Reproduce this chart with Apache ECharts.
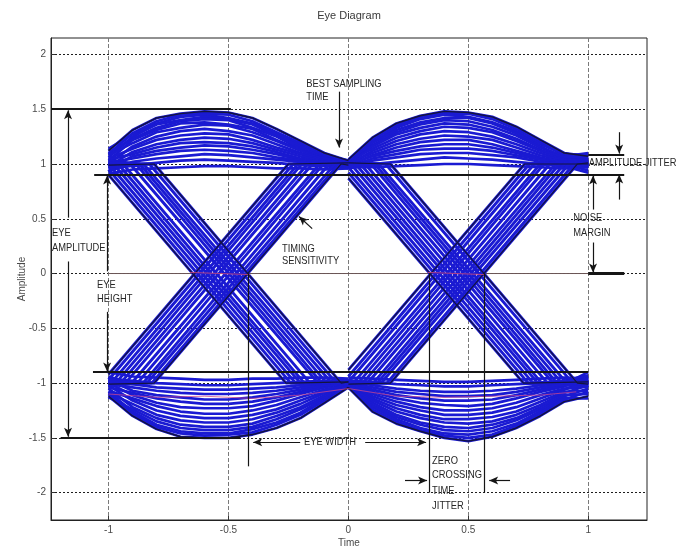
<!DOCTYPE html>
<html>
<head>
<meta charset="utf-8">
<script src="https://cdn.jsdelivr.net/npm/echarts@6/dist/echarts.min.js"></script>
<style>
  html, body { margin: 0; padding: 0; background: #ffffff; }
  #chart { width: 684px; height: 550px; }
</style>
</head>
<body>
<div id="chart"></div>
<script>
// ---- sample times for one unit interval ----
const TIME_LEFT  = [-1, -0.9, -0.8, -0.7, -0.6, -0.5, -0.4, -0.3, -0.2, -0.1, 0];
const TIME_RIGHT = [0, 0.1, 0.2, 0.3, 0.4, 0.5, 0.6, 0.7, 0.8, 0.9, 1];

// ---- axis ticks ----
const X_TICKS = [-1, -0.5, 0, 0.5, 1];
const Y_TICKS = [-2, -1.5, -1, -0.5, 0, 0.5, 1, 1.5, 2];

// ---- "1" level traces, first bit interval (amplitude at TIME_LEFT) ----
const upperArcsLeft = [
  [1.12, 1.31, 1.42, 1.46, 1.48, 1.47, 1.42, 1.32, 1.21, 1.10, 1.03],
  [1.09, 1.28, 1.39, 1.45, 1.46, 1.45, 1.39, 1.29, 1.19, 1.09, 1.02],
  [1.14, 1.27, 1.37, 1.43, 1.45, 1.42, 1.37, 1.28, 1.17, 1.07, 1.01],
  [1.06, 1.25, 1.36, 1.40, 1.43, 1.41, 1.36, 1.26, 1.16, 1.08, 1.03],
  [1.10, 1.23, 1.33, 1.39, 1.41, 1.40, 1.33, 1.25, 1.14, 1.06, 1.00],
  [1.03, 1.22, 1.31, 1.37, 1.38, 1.36, 1.32, 1.22, 1.13, 1.05, 1.02],
  [1.08, 1.19, 1.29, 1.33, 1.36, 1.35, 1.29, 1.21, 1.12, 1.04, 0.99],
  [1.00, 1.16, 1.25, 1.30, 1.32, 1.30, 1.26, 1.18, 1.10, 1.05, 1.01],
  [1.05, 1.14, 1.22, 1.26, 1.28, 1.27, 1.22, 1.15, 1.09, 1.03, 1.00],
  [0.98, 1.11, 1.18, 1.22, 1.24, 1.23, 1.19, 1.13, 1.07, 1.02, 0.98],
  [1.04, 1.09, 1.15, 1.19, 1.20, 1.19, 1.16, 1.11, 1.05, 1.01, 1.00],
  [0.96, 1.07, 1.12, 1.15, 1.17, 1.16, 1.13, 1.09, 1.04, 1.01, 0.99],
  [1.01, 1.05, 1.09, 1.12, 1.13, 1.12, 1.10, 1.06, 1.03, 1.00, 0.98],
  [0.93, 1.02, 1.05, 1.07, 1.09, 1.08, 1.06, 1.04, 1.02, 0.99, 0.97],
  [0.95, 0.99, 1.01, 1.03, 1.04, 1.03, 1.02, 1.01, 0.99, 0.98, 0.96],
  [0.91, 0.95, 0.96, 0.97, 0.98, 0.98, 0.97, 0.96, 0.96, 0.95, 0.96]
];

// ---- "1" level traces, second bit interval (amplitude at TIME_RIGHT) ----
const upperArcsRight = [
  [1.04, 1.24, 1.37, 1.44, 1.48, 1.47, 1.43, 1.34, 1.22, 1.10, 1.07],
  [1.02, 1.22, 1.35, 1.43, 1.46, 1.46, 1.41, 1.32, 1.20, 1.08, 1.05],
  [1.03, 1.20, 1.33, 1.41, 1.45, 1.43, 1.38, 1.30, 1.18, 1.09, 1.08],
  [1.01, 1.19, 1.31, 1.38, 1.42, 1.42, 1.37, 1.28, 1.16, 1.06, 1.03],
  [1.03, 1.17, 1.29, 1.36, 1.40, 1.39, 1.34, 1.26, 1.15, 1.07, 1.10],
  [1.00, 1.16, 1.27, 1.33, 1.37, 1.36, 1.31, 1.23, 1.13, 1.05, 1.02],
  [1.02, 1.14, 1.24, 1.30, 1.34, 1.33, 1.29, 1.21, 1.12, 1.06, 1.06],
  [0.99, 1.12, 1.21, 1.27, 1.30, 1.29, 1.25, 1.18, 1.10, 1.04, 1.00],
  [1.01, 1.10, 1.18, 1.23, 1.26, 1.25, 1.22, 1.15, 1.08, 1.03, 1.04],
  [0.98, 1.08, 1.15, 1.20, 1.22, 1.22, 1.18, 1.12, 1.06, 1.01, 0.97],
  [1.00, 1.07, 1.12, 1.16, 1.18, 1.18, 1.15, 1.10, 1.05, 1.02, 1.01],
  [0.97, 1.05, 1.09, 1.13, 1.14, 1.14, 1.12, 1.08, 1.04, 1.00, 0.94],
  [0.99, 1.03, 1.06, 1.09, 1.10, 1.10, 1.08, 1.06, 1.02, 0.99, 0.99],
  [0.96, 1.00, 1.02, 1.04, 1.06, 1.05, 1.04, 1.02, 1.00, 0.98, 0.92],
  [0.97, 0.97, 0.98, 0.99, 1.00, 1.00, 0.99, 0.98, 0.97, 0.96, 0.97]
];

// ---- "0" level traces, first bit interval ----
const lowerArcsLeft = [
  [-1.12, -1.30, -1.42, -1.49, -1.50, -1.50, -1.47, -1.41, -1.32, -1.18, -1.04],
  [-1.10, -1.28, -1.40, -1.46, -1.48, -1.47, -1.45, -1.38, -1.29, -1.16, -1.03],
  [-1.08, -1.26, -1.38, -1.44, -1.46, -1.46, -1.42, -1.36, -1.27, -1.14, -1.02],
  [-1.13, -1.24, -1.35, -1.41, -1.43, -1.43, -1.40, -1.33, -1.24, -1.13, -1.03],
  [-1.05, -1.22, -1.32, -1.38, -1.40, -1.40, -1.37, -1.30, -1.22, -1.11, -1.01],
  [-1.09, -1.19, -1.29, -1.34, -1.36, -1.36, -1.33, -1.27, -1.19, -1.09, -1.02],
  [-1.02, -1.16, -1.25, -1.30, -1.32, -1.32, -1.29, -1.24, -1.16, -1.08, -1.00],
  [-1.07, -1.14, -1.21, -1.26, -1.28, -1.28, -1.25, -1.20, -1.13, -1.06, -1.01],
  [-1.00, -1.11, -1.18, -1.22, -1.23, -1.23, -1.21, -1.16, -1.10, -1.04, -0.99],
  [-1.04, -1.09, -1.14, -1.17, -1.19, -1.19, -1.17, -1.13, -1.08, -1.03, -1.00],
  [-0.97, -1.07, -1.11, -1.13, -1.15, -1.15, -1.13, -1.10, -1.06, -1.02, -0.98],
  [-1.01, -1.04, -1.07, -1.09, -1.10, -1.10, -1.09, -1.07, -1.04, -1.01, -1.00],
  [-0.94, -1.01, -1.04, -1.05, -1.06, -1.06, -1.05, -1.04, -1.02, -1.00, -0.98],
  [-0.96, -0.98, -1.00, -1.01, -1.02, -1.02, -1.01, -1.00, -0.99, -0.98, -0.97],
  [-0.90, -0.94, -0.95, -0.96, -0.97, -0.97, -0.96, -0.96, -0.95, -0.95, -0.96]
];

// ---- "0" level traces, second bit interval ----
const lowerArcsRight = [
  [-1.04, -1.26, -1.37, -1.44, -1.50, -1.53, -1.49, -1.41, -1.30, -1.17, -1.12],
  [-1.03, -1.24, -1.35, -1.43, -1.48, -1.50, -1.47, -1.39, -1.28, -1.15, -1.08],
  [-1.02, -1.22, -1.33, -1.41, -1.46, -1.47, -1.44, -1.37, -1.26, -1.14, -1.14],
  [-1.03, -1.20, -1.31, -1.38, -1.43, -1.44, -1.41, -1.34, -1.24, -1.12, -1.05],
  [-1.01, -1.18, -1.29, -1.36, -1.40, -1.41, -1.38, -1.32, -1.22, -1.11, -1.10],
  [-1.02, -1.16, -1.26, -1.32, -1.36, -1.37, -1.35, -1.29, -1.20, -1.09, -1.02],
  [-1.00, -1.14, -1.23, -1.29, -1.33, -1.33, -1.31, -1.26, -1.17, -1.08, -1.07],
  [-1.01, -1.12, -1.20, -1.25, -1.29, -1.29, -1.27, -1.22, -1.14, -1.06, -0.98],
  [-0.99, -1.10, -1.17, -1.22, -1.25, -1.25, -1.23, -1.18, -1.11, -1.05, -1.03],
  [-1.00, -1.08, -1.14, -1.18, -1.20, -1.21, -1.19, -1.14, -1.08, -1.03, -0.95],
  [-0.98, -1.06, -1.11, -1.14, -1.16, -1.16, -1.15, -1.11, -1.06, -1.02, -1.00],
  [-1.00, -1.04, -1.08, -1.10, -1.12, -1.12, -1.11, -1.08, -1.04, -1.01, -0.90],
  [-0.97, -1.02, -1.05, -1.07, -1.08, -1.08, -1.07, -1.05, -1.02, -0.99, -0.98],
  [-0.98, -0.99, -1.01, -1.02, -1.03, -1.03, -1.02, -1.01, -1.00, -0.98, -0.93],
  [-0.95, -0.96, -0.97, -0.98, -0.99, -0.99, -0.98, -0.97, -0.96, -0.95, -0.96]
];

// ---- 1 -> 0 transitions in the first interval ([time, amplitude] vertices) ----
const fallingLeft = [
  [[-1, 0.90], [-0.26, -1.00], [0, -0.99]],
  [[-1, 0.95], [-0.24, -1.00], [0, -1.01]],
  [[-1, 1.00], [-0.22, -1.00], [0, -0.98]],
  [[-1, 1.01], [-0.98, 1.00], [-0.20, -1.00], [0, -1.00]],
  [[-1, 0.99], [-0.96, 1.00], [-0.18, -1.01], [0, -1.02]],
  [[-1, 1.02], [-0.94, 1.00], [-0.16, -1.00], [0, -0.99]],
  [[-1, 0.98], [-0.91, 1.00], [-0.13, -0.99], [0, -1.00]],
  [[-1, 1.00], [-0.89, 1.01], [-0.11, -1.00], [0, -1.01]],
  [[-1, 1.03], [-0.87, 1.00], [-0.09, -1.00], [0, -0.98]],
  [[-1, 0.97], [-0.85, 0.99], [-0.07, -1.00], [0, -1.00]],
  [[-1, 1.01], [-0.83, 1.00], [-0.05, -1.00], [0, -1.01]],
  [[-1, 0.99], [-0.81, 1.00], [-0.03, -1.00], [0, -0.99]]
];

// ---- 0 -> 1 transitions in the first interval ----
const risingLeft = [
  [[-1, -0.92], [-0.25, 1.00], [0, 1.01]],
  [[-1, -0.97], [-0.23, 1.00], [0, 0.99]],
  [[-1, -1.01], [-0.99, -1.00], [-0.21, 1.00], [0, 1.00]],
  [[-1, -0.99], [-0.97, -1.00], [-0.19, 1.01], [0, 1.02]],
  [[-1, -1.03], [-0.95, -1.00], [-0.17, 1.00], [0, 0.99]],
  [[-1, -0.98], [-0.93, -1.00], [-0.15, 1.00], [0, 1.00]],
  [[-1, -1.01], [-0.90, -0.99], [-0.12, 1.00], [0, 1.01]],
  [[-1, -1.00], [-0.88, -1.00], [-0.10, 1.01], [0, 0.98]],
  [[-1, -0.97], [-0.86, -1.01], [-0.08, 1.00], [0, 1.00]],
  [[-1, -1.02], [-0.84, -1.00], [-0.06, 0.99], [0, 1.01]],
  [[-1, -0.99], [-0.82, -1.00], [-0.04, 1.00], [0, 1.00]],
  [[-1, -1.01], [-0.81, -1.00], [-0.03, 1.00], [0, 0.99]]
];

// ---- 1 -> 0 transitions in the second interval ----
const fallingRight = [
  [[0, 0.87], [0.73, -1.00], [1, -0.99]],
  [[0, 0.92], [0.75, -1.00], [1, -1.02]],
  [[0, 0.97], [0.77, -1.00], [1, -0.97]],
  [[0, 1.01], [0.01, 1.00], [0.79, -1.00], [1, -1.00]],
  [[0, 0.99], [0.03, 1.00], [0.81, -1.01], [1, -1.03]],
  [[0, 1.02], [0.05, 1.00], [0.83, -1.00], [1, -0.98]],
  [[0, 0.98], [0.07, 1.00], [0.85, -0.99], [1, -1.01]],
  [[0, 1.00], [0.09, 1.01], [0.87, -1.00], [1, -1.00]],
  [[0, 1.01], [0.11, 1.00], [0.89, -1.00], [1, -0.96]],
  [[0, 0.99], [0.13, 0.99], [0.91, -1.00], [1, -1.02]],
  [[0, 1.00], [0.155, 1.00], [0.935, -1.00], [1, -1.00]],
  [[0, 1.01], [0.175, 1.00], [0.955, -1.00], [1, -1.01]]
];

// ---- 0 -> 1 transitions in the second interval ----
const risingRight = [
  [[0, -0.88], [0.735, 1.00], [1, 1.00]],
  [[0, -0.94], [0.755, 1.00], [1, 1.03]],
  [[0, -0.99], [0.775, 1.00], [1, 0.98]],
  [[0, -1.01], [0.02, -1.00], [0.80, 1.00], [1, 1.01]],
  [[0, -0.99], [0.04, -1.00], [0.82, 1.01], [1, 0.99]],
  [[0, -1.02], [0.06, -1.00], [0.84, 1.00], [1, 1.02]],
  [[0, -0.98], [0.08, -1.00], [0.86, 0.99], [1, 1.00]],
  [[0, -1.00], [0.10, -1.01], [0.88, 1.00], [1, 0.97]],
  [[0, -1.01], [0.12, -1.00], [0.90, 1.00], [1, 1.01]],
  [[0, -0.99], [0.14, -0.99], [0.92, 1.00], [1, 1.00]],
  [[0, -1.00], [0.16, -1.00], [0.94, 1.00], [1, 0.99]],
  [[0, -1.01], [0.175, -1.00], [0.955, 1.00], [1, 1.01]]
];

// ---- reference traces drawn in red ----
const redLowTrace = [[-1, -1.10], [-0.8, -1.13], [-0.6, -1.12], [-0.4, -1.14], [-0.2, -1.11], [0, -1.05],
                     [0.2, -1.12], [0.4, -1.13], [0.6, -1.12], [0.8, -1.11], [0.95, -1.08]];
const redCrossLeft  = [[-0.66, 0.01], [-0.41, -0.01]];
const redCrossRight = [[0.33, 0.01], [0.57, -0.01]];
const zeroLine = [[-1, 0], [1, 0]];

// ---- measurement marks: [t1, y1, t2, y2] ----
const measureBars = [
  [-1.24, 1.5, -0.49, 1.5],        // eye amplitude, top
  [-1.20, -1.5, -0.45, -1.5],      // eye amplitude, bottom
  [-1.06, 0.90, 1.15, 0.90],       // eye height, top
  [-1.065, -0.90, 1.0, -0.90],     // eye height, bottom
  [1.0, 1.086, 1.15, 1.086]        // amplitude jitter, top
];
const measureArrows = [
  [-1.169, 0.51, -1.169, 1.49],    // eye amplitude up
  [-1.169, 0.11, -1.169, -1.49],   // eye amplitude down
  [-1.006, 0.02, -1.006, 0.895],   // eye height up
  [-1.006, -0.35, -1.006, -0.895], // eye height down
  [-0.039, 1.66, -0.039, 1.15],    // best sampling time
  [1.129, 1.29, 1.129, 1.095],     // amplitude jitter down
  [1.129, 0.675, 1.129, 0.905],    // amplitude jitter up
  [1.02, 0.584, 1.02, 0.895],      // noise margin up
  [1.02, 0.283, 1.02, 0.01],       // noise margin down
  [-0.151, 0.41, -0.206, 0.52],    // timing sensitivity
  [-0.201, -1.54, -0.397, -1.54],  // eye width left
  [0.07, -1.54, 0.324, -1.54],     // eye width right
  [0.236, -1.89, 0.328, -1.89],    // zero crossing, from left
  [0.674, -1.89, 0.587, -1.89]     // zero crossing, from right
];
const measureLines = [
  [-0.418, 0, -0.418, -1.76],      // eye width limit
  [0.337, 0, 0.337, -2.0],         // crossing spread start
  [0.566, 0, 0.566, -2.0]          // crossing spread end
];
const noiseMarginBase = [1.0, 0, 1.15, 0];

// ---- annotation texts: [text, t, y] (left edge, vertical middle) ----
const notes = [
  ['BEST SAMPLING', -0.176, 1.734],
  ['TIME', -0.176, 1.615],
  ['AMPLITUDE JITTER', 1.002, 1.005],
  ['NOISE', 0.937, 0.511],
  ['MARGIN', 0.937, 0.374],
  ['TIMING', -0.277, 0.228],
  ['SENSITIVITY', -0.277, 0.119],
  ['EYE', -1.236, 0.374],
  ['AMPLITUDE', -1.236, 0.237],
  ['EYE', -1.048, -0.109],
  ['HEIGHT', -1.048, -0.228],
  ['EYE WIDTH', -0.185, -1.542],
  ['ZERO', 0.349, -1.715],
  ['CROSSING', 0.349, -1.843],
  ['TIME', 0.349, -1.989],
  ['JITTER', 0.349, -2.126]
];

const TRACE_BLUE = '#1a1ad2';
const TRACE_EDGE = '#14143c';
const INK = '#151515';
const FONT = '"Liberation Sans", Arial, Helvetica, sans-serif';

const series = [];
function addTrace(points, color, width, z) {
  series.push({
    type: 'line', data: points, showSymbol: false, symbol: 'none',
    silent: true, animation: false, z: z || 2,
    lineStyle: { color: color, width: width }
  });
}
function arcPoints(times, values) { return times.map((t, i) => [t, values[i]]); }

const ARC_W = 2.7, EDGE_W = 1.4, TRANS_W = 2.9;
[[upperArcsLeft, TIME_LEFT], [upperArcsRight, TIME_RIGHT], [lowerArcsLeft, TIME_LEFT], [lowerArcsRight, TIME_RIGHT]]
  .forEach(([group, times]) => {
    group.forEach((a, i) => addTrace(arcPoints(times, a), TRACE_BLUE, ARC_W, 2));
    addTrace(arcPoints(times, group[0]), TRACE_EDGE, EDGE_W, 3);
  });
[fallingLeft, risingLeft, fallingRight, risingRight].forEach(group => {
  group.forEach(p => addTrace(p, TRACE_BLUE, TRANS_W, 2));
  addTrace(group[0], TRACE_EDGE, 1.2, 3);
  addTrace(group[group.length - 1], TRACE_EDGE, 1.2, 3);
});
addTrace(zeroLine, '#6b5656', 1, 1);
addTrace(redLowTrace, 'rgba(205,70,140,0.75)', 1, 4);
addTrace(redCrossLeft, 'rgba(205,70,120,0.85)', 1, 4);
addTrace(redCrossRight, 'rgba(205,70,120,0.85)', 1, 4);

// measurement marks as a mark-line layer on the same axes
function seg(m, arrow, width) {
  return [
    { coord: [m[0], m[1]], symbol: 'none' },
    { coord: [m[2], m[3]], symbol: arrow ? 'arrow' : 'none', symbolSize: [6, 9],
      lineStyle: { color: INK, width: width, type: 'solid' } }
  ];
}
const markData = []
  .concat(measureBars.map(m => seg(m, false, 1.8)))
  .concat(measureArrows.map(m => seg(m, true, 1.2)))
  .concat(measureLines.map(m => seg(m, false, 1.2)))
  .concat([seg(noiseMarginBase, false, 3)]);
series.push({
  type: 'line', data: [], silent: true, animation: false, z: 5,
  markLine: {
    silent: true, animation: false, symbol: ['none', 'none'], precision: 4,
    label: { show: false },
    lineStyle: { color: INK, width: 1.2, type: 'solid' },
    emphasis: { disabled: true },
    data: markData
  }
});

const chart = echarts.init(document.getElementById('chart'), null, { renderer: 'canvas' });
const axisText = { color: '#4a4a4a', fontSize: 10, fontFamily: FONT };
chart.setOption({
  animation: false,
  backgroundColor: '#ffffff',
  grid: { left: 51, right: 37, top: 38, bottom: 30, show: true, borderColor: '#222', borderWidth: 1,
          backgroundColor: 'transparent', outerBoundsMode: 'none' },
  xAxis: {
    type: 'value', min: -1.24, max: 1.245,
    name: 'Time', nameLocation: 'middle', nameGap: 18, nameMoveOverlap: false,
    nameTextStyle: { color: '#4a4a4a', fontSize: 10, fontFamily: FONT },
    axisLine: { show: true, onZero: false, lineStyle: { color: '#222', width: 1 } },
    axisTick: { show: true, inside: true, length: 4, customValues: X_TICKS, lineStyle: { color: '#333' } },
    axisLabel: Object.assign({ margin: 5, customValues: X_TICKS, formatter: v => String(v) }, axisText),
    splitLine: { show: true, lineStyle: { color: '#7a7a7a', width: 1, type: [4, 2] } }
  },
  yAxis: {
    type: 'value', min: -2.25, max: 2.15,
    name: 'Amplitude', nameLocation: 'middle', nameGap: 24, nameRotate: 90, nameMoveOverlap: false,
    nameTextStyle: { color: '#4a4a4a', fontSize: 10, fontFamily: FONT },
    axisLine: { show: true, onZero: false, lineStyle: { color: '#222', width: 1 } },
    axisTick: { show: true, inside: true, length: 4, customValues: Y_TICKS, lineStyle: { color: '#333' } },
    axisLabel: Object.assign({ margin: 5, customValues: Y_TICKS, formatter: v => String(v) }, axisText),
    splitLine: { show: true, lineStyle: { color: '#1e1e1e', width: 1, type: [2, 2] } }
  },
  series: series
});

// text labels placed through the axes' own coordinate conversion
const graphics = notes.map(n => {
  const p = chart.convertToPixel({ gridIndex: 0 }, [n[1], n[2]]);
  return {
    type: 'text', x: p[0], y: p[1], scaleX: 0.85, silent: true, z: 100,
    style: { text: n[0], fill: '#262626', font: '11px ' + FONT,
             align: 'left', verticalAlign: 'middle', textAlign: 'left', textVerticalAlign: 'middle' }
  };
});
graphics.push({
  type: 'text', x: 349, y: 16, silent: true, z: 100,
  style: { text: 'Eye Diagram', fill: '#3a3a3a', font: '11px ' + FONT,
           align: 'center', verticalAlign: 'middle', textAlign: 'center', textVerticalAlign: 'middle' }
});
chart.setOption({ graphic: graphics });
</script>
</body>
</html>
